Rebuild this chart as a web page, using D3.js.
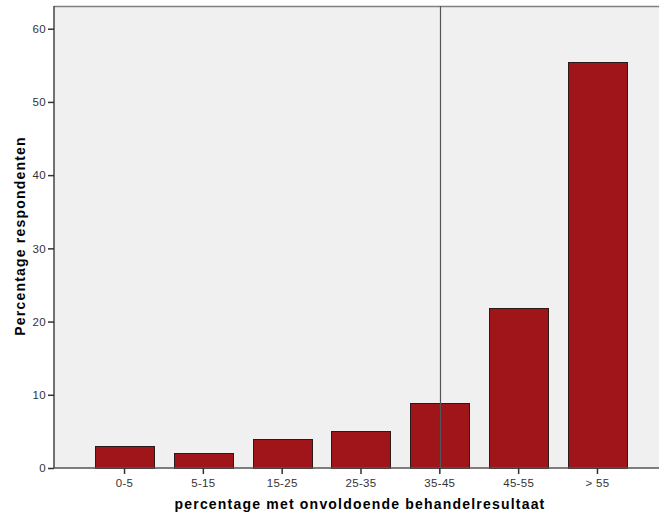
<!DOCTYPE html>
<html><head><meta charset="utf-8">
<script src="https://cdn.jsdelivr.net/npm/d3@7"></script>
<style>body{margin:0;background:#fff;}svg{display:block;}</style>
</head><body>
<script>
const categories = ["0-5","5-15","15-25","25-35","35-45","45-55","> 55"];
const values = [3, 2, 4, 5, 8.9, 21.8, 55.5];
const yTicks = [0,10,20,30,40,50,60];
const refCategory = "35-45";
const xTitle = "percentage met onvoldoende behandelresultaat";
const yTitle = "Percentage respondenten";

(function () {
const W = 659, H = 518;
const mLeft = 54, mTop = 6, mBottom = 468, mRight = 668;
const font = "Liberation Sans, Arial, sans-serif";
const svg = d3.select("body").append("svg").attr("width", W).attr("height", H);

const x = d3.scaleBand().domain(categories).range([mLeft, mRight]).paddingInner(0.25).paddingOuter(0.52);
const y = d3.scaleLinear().domain([0, 63.1]).range([mBottom, mTop]);

svg.append("rect").attr("x", mLeft).attr("y", mTop).attr("width", W - mLeft).attr("height", mBottom - mTop).attr("fill", "#f0f0f0");
svg.append("line").attr("x1", mLeft).attr("x2", W).attr("y1", mTop + 0.5).attr("y2", mTop + 0.5).attr("stroke", "#808080").attr("stroke-width", 1.5);

svg.selectAll("rect.bar").data(categories).join("rect").attr("class", "bar")
  .attr("x", d => Math.round(x(d)) + 0.5)
  .attr("y", (d, i) => Math.round(y(values[i])) + 0.5)
  .attr("width", Math.round(x.bandwidth()))
  .attr("height", (d, i) => y(0) - Math.round(y(values[i])))
  .attr("fill", "#a0151a").attr("stroke", "#2a1a1a").attr("stroke-width", 1);

const rx = Math.round(x(refCategory) + x.bandwidth() / 2) + 0.5;
svg.append("line").attr("x1", rx).attr("x2", rx)
  .attr("y1", mTop).attr("y2", mBottom).attr("stroke", "#555").attr("stroke-width", 1.2);

const yAxis = svg.append("g").attr("transform", `translate(${mLeft},0)`)
  .call(d3.axisLeft(y).tickValues(yTicks).tickSize(6).tickPadding(2));
yAxis.select(".domain").attr("stroke", "#444").attr("stroke-width", 1.5).attr("d", `M0,${mTop}V${mBottom}`);
yAxis.selectAll(".tick line").attr("stroke", "#333").attr("stroke-width", 1.5);
yAxis.selectAll(".tick text").attr("font-family", font).attr("font-size", 11.5).attr("letter-spacing", 0.3).attr("fill", "#333");

const xAxis = svg.append("g").attr("transform", `translate(0,${mBottom})`)
  .call(d3.axisBottom(x).tickSize(6).tickPadding(5));
xAxis.select(".domain").attr("stroke", "#555").attr("stroke-width", 1.5).attr("d", `M${mLeft},0H${W}`);
xAxis.selectAll(".tick line").attr("stroke", "#333").attr("stroke-width", 1.5);
xAxis.selectAll(".tick text").attr("font-family", font).attr("font-size", 11.5).attr("letter-spacing", 0.3).attr("fill", "#333");

svg.append("text").attr("x", 360).attr("y", 509).attr("text-anchor", "middle")
  .attr("font-family", font).attr("font-weight", "bold").attr("font-size", 14).attr("letter-spacing", 1.2).attr("fill", "#000")
  .text(xTitle);
svg.append("text").attr("transform", "translate(25,236) rotate(-90)").attr("text-anchor", "middle")
  .attr("font-family", font).attr("font-weight", "bold").attr("font-size", 14).attr("letter-spacing", 1.2).attr("fill", "#000")
  .text(yTitle);
})();
</script>
</body></html>
